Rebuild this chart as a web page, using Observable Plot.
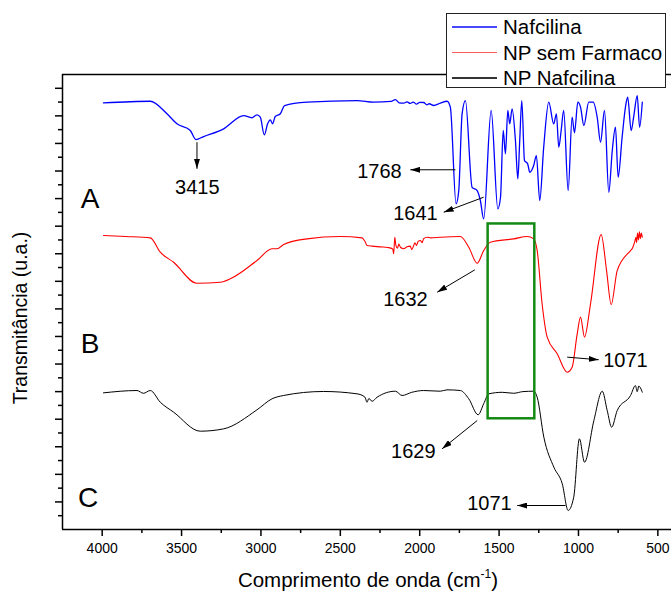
<!DOCTYPE html>
<html><head><meta charset="utf-8">
<script src="https://cdn.jsdelivr.net/npm/d3@7"></script>
<script src="https://cdn.jsdelivr.net/npm/@observablehq/plot@0.6"></script>
<style>
body{margin:0;background:#fff;}
#wrap{position:relative;width:671px;height:596px;font-family:"Liberation Sans",Arial,sans-serif;}
#legend{position:absolute;left:446px;top:13px;width:218px;height:73px;border:1.5px solid #222;background:#fff;}
.row{position:absolute;left:0;height:25px;display:flex;align-items:center;font-size:20.5px;color:#000;white-space:nowrap}
.ln{display:inline-block;width:45px;height:1.4px;margin-left:5px;margin-right:6px}
</style></head><body><div id="wrap"><div id="legend"></div></div>
<script>
// ---- data (wavenumber cm-1, transmittance a.u.) ----
const seriesNames = ["Nafcilina", "NP sem Farmaco", "NP Nafcilina"];
const seriesColors = ["#0000ff", "#ff0000", "#000000"];
const legendColors = ["#4848ff", "#ff5a5a", "#333333"];

const nafcilina = [
 [3992,30.94],[3697,31.06],[3592,30.15],[3529,29.42],[3445,28.94],[3410,28.28],[3361,28.50],
 [3235,29.06],[3109,30.02],[3057,29.86],[3025,30.07],[3004,29.90],[2979,28.62],[2958,29.42],
 [2941,29.71],[2927,29.42],[2910,29.95],[2878,30.15],[2851,30.75],[2710,30.99],[2395,31.11],
 [2290,30.99],[2180,31.05],[2153,31.18],[2130,30.95],[2101,30.92],[2080,31.02],[2060,30.9],[2040,31.0],
 [2020,30.85],[2000,30.98],[1975,30.97],[1955,30.8],[1940,30.88],[1912,30.75],
 [1870,30.92],[1828,31.06],[1807,30.63],[1771,23.62],[1754,24.58],[1733,30.15],[1712,31.11],
 [1670,24.82],[1638,24.58],[1618,23.86],[1597,22.53],[1550,30.39],[1508,23.26],[1491,24.10],
 [1474,28.94],[1460,27.25],[1445,30.39],[1433,29.42],[1418,30.51],[1397,28.21],[1382,25.43],
 [1370,28.21],[1357,31.11],[1340,26.76],[1320,26.52],[1307,25.91],[1282,26.40],[1265,27.12],
 [1244,23.86],[1219,27.72],[1187,30.99],[1156,29.42],[1139,30.15],[1124,27.72],[1109,28.94],
 [1093,30.39],[1065,24.58],[1040,29.90],[1025,28.77],[1004,30.99],[987,30.63],[966,29.30],
 [935,30.99],[907,30.99],[882,29.90],[861,28.09],[836,30.39],[809,24.46],[787,27.49],
 [767,29.18],[750,25.55],[725,28.45],[704,30.63],[690,31.35],[668,28.94],[651,30.02],
 [630,31.47],[615,29.18],[598,30.99]
];

const npSemFarmaco = [
 [3992,21.32],[3850,21.25],[3697,21.15],[3634,20.11],[3550,19.38],[3403,17.86],[3256,17.93],
 [3193,18.18],[3025,19.51],[2930,20.36],[2899,20.36],[2857,20.67],[2710,21.08],[2500,21.25],
 [2363,21.15],[2345,20.9],[2332,20.6],[2300,20.55],[2250,20.5],[2200,20.45],[2170,20.35],
 [2164,20.0],[2157,21.2],[2150,20.6],[2140,20.4],[2132,20.7],[2120,20.45],[2101,20.36],
 [2080,20.5],[2060,20.55],[2050,20.3],[2038,20.6],[2030,20.8],[2020,20.6],[2010,20.9],
 [1996,20.96],[1985,20.8],[1975,21.1],[1954,21.2],[1930,21.15],[1870,21.2],[1744,21.25],
 [1691,20.47],[1638,19.31],[1597,20.23],[1555,20.84],[1408,21.08],[1324,21.25],[1282,21.08],
 [1260,20.23],[1229,16.37],[1197,13.95],[1134,12.74],[1071,11.41],[1040,11.77],[1008,14.19],
 [987,15.40],[962,13.95],[924,16.37],[857,21.39],[823,18.78],[794,16.32],[756,18.78],
 [672,20.23],[660,20.4],[645,20.9],[638,21.2],[634,20.8],[628,21.5],[622,21.0],[616,21.6],
 [610,21.1],[604,21.5],[598,21.2]
];

const npNafcilina = [
 [3992,9.91],[3781,10.08],[3740,9.88],[3697,10.08],[3634,9.23],[3550,8.51],[3382,7.13],
 [3235,7.30],[3025,8.68],[2930,9.48],[2857,9.72],[2605,10.01],[2395,9.84],[2345,9.6],
 [2332,9.23],[2320,9.5],[2300,9.3],[2269,9.59],[2153,10.03],[2111,9.72],[2050,9.95],[1975,10.08],
 [1870,10.03],[1828,10.13],[1744,10.08],[1691,9.48],[1632,8.32],[1597,9.12],[1565,9.84],
 [1480,9.95],[1408,9.88],[1350,10.0],[1282,10.03],[1260,9.59],[1218,6.69],[1155,4.52],[1102,3.31],
 [1065,1.38],[1030,2.34],[994,6.58],[962,4.88],[903,7.90],[850,10.03],[819,8.63],[791,7.42],
 [756,8.63],[672,9.72],[641,10.44],[630,10.0],[620,10.4],[598,9.96]
];

const xMajor = [4000, 3500, 3000, 2500, 2000, 1500, 1000, 500];
const xMinor = [3750, 3250, 2750, 2250, 1750, 1250, 750];
const yMajor = d3.range(2, 33, 2);
const yMinor = d3.range(1, 33, 2);

const panelLetters = ["A", "B", "C"];
const panelX = [4076, 4076, 4089];
const panelY = [24.0, 13.42, 2.25];

const peakLabels = ["3415", "1768", "1641", "1632", "1071", "1629", "1071"];
const labelX = [3401, 2254, 2027, 2090, 704, 2040, 1561];
const labelY = [24.80, 25.96, 22.92, 16.68, 12.26, 5.66, 1.86];
const arrowX1 = [3403, 1775, 1597, 1653, 1071, 1638, 1082];
const arrowY1 = [28.09, 26.09, 24.10, 18.83, 12.50, 7.90, 1.74];
const arrowX2 = [3403, 2059, 1849, 1890, 872, 1859, 1386];
const arrowY2 = [26.16, 26.09, 23.01, 17.21, 12.31, 5.85, 1.74];

const boxX = [1569, 1275];
const boxY = [8.03, 22.16];

// ---- build ----
const peaks = peakLabels.map((t, i) => ({t, lx: labelX[i], ly: labelY[i], x1: arrowX1[i], y1: arrowY1[i], x2: arrowX2[i], y2: arrowY2[i]}));
const letters = panelLetters.map((t, i) => ({t, x: panelX[i], y: panelY[i]}));
const highlight = [{x1: boxX[0], x2: boxX[1], y1: boxY[0], y2: boxY[1]}];
const allSeries = [nafcilina, npSemFarmaco, npNafcilina];
const widths = [1.3, 1.1, 1.0];

const chart = Plot.plot({
  width: 671, height: 596,
  marginLeft: 62, marginRight: 0, marginTop: 74, marginBottom: 67,
  x: {domain: [4250, 414], label: null},
  y: {domain: [0, 33], label: null},
  style: {background: "white", fontFamily: "'Liberation Sans', Arial, sans-serif", fontSize: "14px", color: "black"},
  marks: [
    ...allSeries.map((s, i) => Plot.line(s, {x: d => d[0], y: d => d[1], stroke: seriesColors[i], strokeWidth: widths[i], curve: "monotone-x"})),
    Plot.rect(highlight, {x1: "x1", x2: "x2", y1: "y1", y2: "y2", fill: "none", stroke: "#138a13", strokeWidth: 2.5}),
    Plot.link(peaks, {x1: "x1", y1: "y1", x2: "x2", y2: "y2", stroke: "black", strokeWidth: 1}),
    Plot.text(peaks, {x: "lx", y: "ly", text: "t", fontSize: 20, fill: "black"}),
    Plot.text(letters, {x: "x", y: "y", text: "t", fontSize: 28, fill: "black"}),
    Plot.ruleX([4250], {stroke: "black", strokeWidth: 1.5}),
    Plot.ruleY([0], {stroke: "black", strokeWidth: 1.5}),
    Plot.ruleY([33], {stroke: "black", strokeWidth: 1.5}),
    Plot.axisX({ticks: xMajor, tickSize: 7, tickPadding: 7, strokeWidth: 1.5, tickFormat: d => String(d), fontSize: 14, label: null}),
    Plot.axisX({ticks: xMinor, tickSize: 4, strokeWidth: 1.5, tickFormat: () => "", label: null}),
    Plot.axisY({ticks: yMajor, tickSize: 7, strokeWidth: 1.5, tickFormat: () => "", label: null}),
    Plot.axisY({ticks: yMinor, tickSize: 4, strokeWidth: 1.5, tickFormat: () => "", label: null})
  ]
});

const svg = d3.select(chart);
// filled arrowheads
const defs = svg.append("defs");
defs.append("marker").attr("id", "ah").attr("viewBox", "0 -3 10 6").attr("refX", 10).attr("refY", 0)
  .attr("markerUnits", "userSpaceOnUse").attr("markerWidth", 10).attr("markerHeight", 6).attr("orient", "auto")
  .append("path").attr("d", "M0,-3L10,0L0,3Z").attr("fill", "black");
svg.selectAll("g[aria-label=link] path, g[aria-label=link] line").attr("marker-end", "url(#ah)");

// axis titles
const xt = svg.append("text").attr("x", 368).attr("y", 587).attr("text-anchor", "middle")
  .attr("font-size", 20.5).attr("fill", "black");
xt.append("tspan").text("Comprimento de onda (cm");
xt.append("tspan").attr("font-size", 12).attr("dy", -9).text("-1");
xt.append("tspan").attr("dy", 9).text(")");
svg.append("text").attr("transform", "translate(27,318) rotate(-90)").attr("text-anchor", "middle")
  .attr("font-size", 19.5).attr("fill", "black").text("Transmitância (u.a.)");

const wrap = document.getElementById("wrap");
wrap.insertBefore(chart, wrap.firstChild);

// legend
const legend = document.getElementById("legend");
seriesNames.forEach((name, i) => {
  const row = document.createElement("div");
  row.className = "row";
  row.style.top = (0.5 + i * 25.6) + "px";
  const ln = document.createElement("span");
  ln.className = "ln";
  ln.style.background = legendColors[i];
  row.appendChild(ln);
  const tx = document.createElement("span");
  tx.textContent = name;
  row.appendChild(tx);
  legend.appendChild(row);
});
</script></body></html>
